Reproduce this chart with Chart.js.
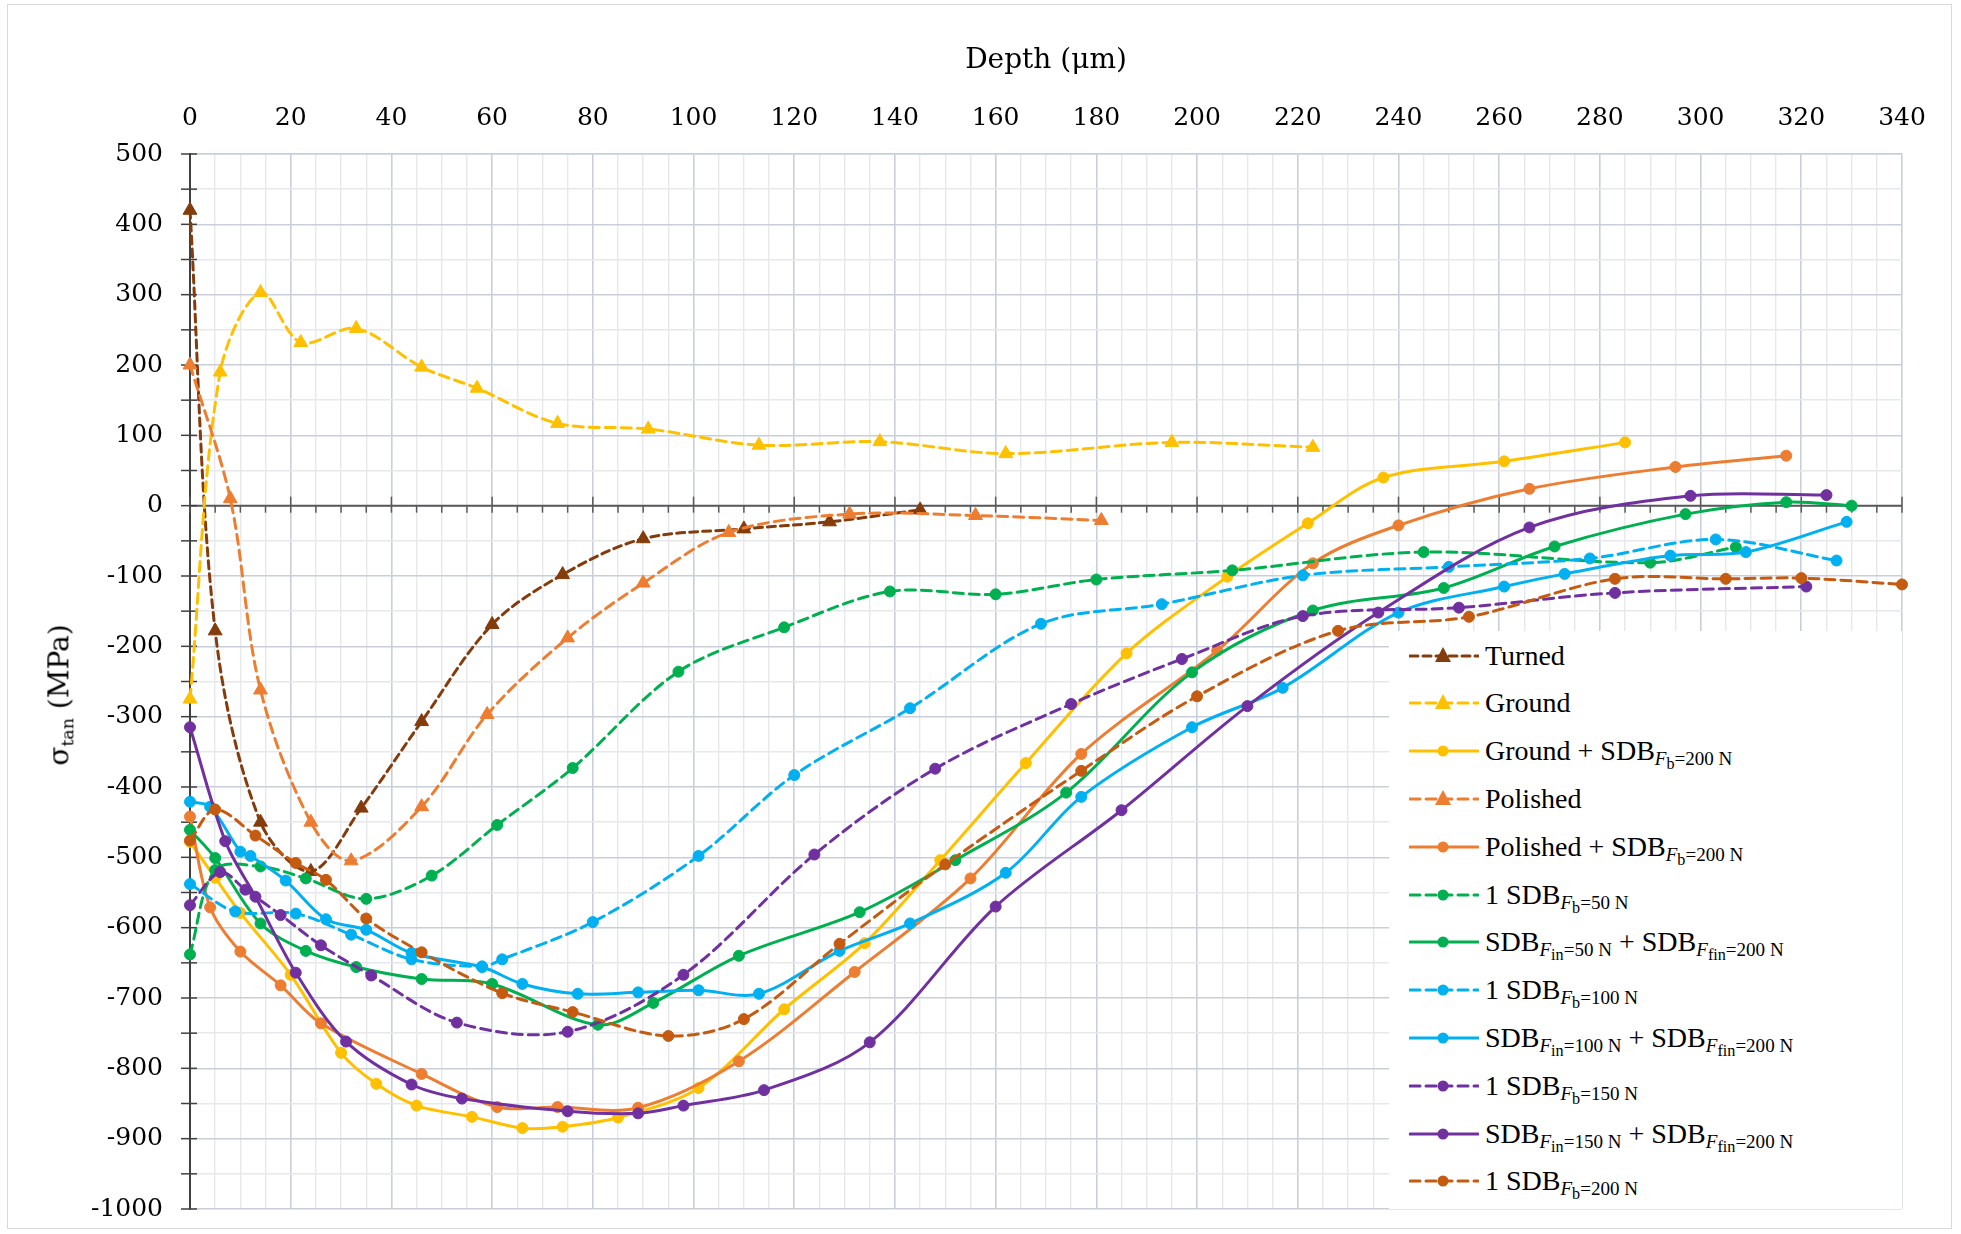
<!DOCTYPE html>
<html><head><meta charset="utf-8">
<script src="https://cdn.jsdelivr.net/npm/chart.js@4.4.1/dist/chart.umd.min.js"></script>
<style>
html,body{margin:0;padding:0;background:#fff;}
#wrap{position:relative;width:1961px;height:1234px;overflow:hidden;background:#fff;}
#frame{position:absolute;left:7px;top:4px;width:1945px;height:1225px;border:1px solid #d9d9d9;box-sizing:border-box;pointer-events:none;}
#c{position:absolute;left:0;top:0;}
#ytitle{position:absolute;left:60px;top:695px;transform:translate(-50%,-50%) rotate(-90deg);font-family:"DejaVu Serif",serif;font-size:28px;color:#000;white-space:nowrap;}
#ytitle sub{font-size:0.62em;vertical-align:-0.3em;}
#legend{position:absolute;left:1389px;top:631px;width:513px;height:578px;background:#fff;font-family:"Liberation Serif",serif;font-size:28px;color:#000;}
.item{position:absolute;left:0;height:40px;display:flex;align-items:center;white-space:nowrap;}
.item svg{margin-left:20px;margin-right:6px;flex:none;}
sub.s1{font-size:0.68em;vertical-align:-0.26em;line-height:0;}
sub.s2{font-size:0.85em;vertical-align:-0.22em;line-height:0;}
</style></head>
<body>
<div id="wrap">
<canvas id="c" width="1961" height="1234"></canvas>
<div id="ytitle">σ<sub>tan</sub> (MPa)</div>
<div id="legend"></div>
<div id="frame"></div>
</div>
<script>
// ---- axis settings ----
const xMin = 0, xMax = 340, xMajorStep = 20, xMinorStep = 5;
const yMin = -1000, yMax = 500, yMajorStep = 100, yMinorStep = 50;

// ---- data (depth in µm, stress in MPa) ----
const turnedDepth  = [0,5,14,24,34,46,60,74,90,110,127,145];
const turnedStress = [420,-178,-450,-520,-430,-307,-169,-98,-47,-33,-23,-6];

const groundDepth  = [0,6,14,22,33,46,57,73,91,113,137,162,195,223];
const groundStress = [-275,190,303,232,252,197,167,117,109,86,91,74,90,83];

const groundSdbDepth  = [0,5,10,20,30,37,45,56,66,74,85,101,118,134,149,166,186,206,222,237,261,285];
const groundSdbStress = [-478,-529,-579,-667,-778,-822,-853,-869,-885,-883,-870,-828,-716,-622,-504,-366,-210,-101,-25,40,63,90];

const polishedDepth  = [0,8,14,24,32,46,59,75,90,107,131,156,181];
const polishedStress = [200,10,-262,-450,-505,-428,-297,-188,-110,-38,-12,-14,-21];

const polishedSdbDepth  = [0,4,10,18,26,46,61,73,89,109,132,155,177,204,223,240,266,295,317];
const polishedSdbStress = [-442,-571,-634,-682,-736,-808,-855,-855,-856,-790,-663,-530,-353,-206,-82,-28,24,55,71];

const sdb50Depth  = [0,5,14,23,35,48,61,76,97,118,139,160,180,207,245,290,307];
const sdb50Stress = [-638,-518,-513,-530,-559,-526,-454,-373,-236,-173,-122,-126,-105,-92,-66,-81,-59];

const sdb50_200Depth  = [0,5,14,23,33,46,60,81,92,109,133,152,174,199,223,249,271,297,317,330];
const sdb50_200Stress = [-461,-501,-594,-633,-656,-673,-680,-738,-707,-640,-578,-504,-408,-237,-149,-117,-58,-12,5,0];

const sdb100Depth  = [0,9,21,32,44,58,62,80,101,120,143,169,193,221,250,278,303,327];
const sdb100Stress = [-538,-577,-580,-610,-645,-655,-645,-592,-498,-383,-288,-168,-140,-99,-87,-75,-48,-78];

const sdb100_200Depth  = [0,4,10,12,19,27,35,44,58,66,77,89,101,113,129,143,162,177,199,217,240,261,273,294,309,329];
const sdb100_200Stress = [-421,-428,-492,-498,-533,-588,-603,-636,-656,-680,-694,-692,-689,-694,-633,-594,-522,-414,-315,-259,-152,-115,-97,-71,-66,-23];

const sdb150Depth  = [0,6,11,18,26,36,53,75,98,124,148,175,197,221,252,283,321];
const sdb150Stress = [-568,-521,-546,-582,-625,-668,-735,-748,-667,-496,-374,-282,-218,-157,-145,-124,-115];

const sdb150_200Depth  = [0,7,13,21,31,44,54,75,89,98,114,135,160,185,210,236,266,298,325];
const sdb150_200Stress = [-315,-477,-556,-664,-762,-823,-843,-861,-864,-853,-831,-763,-570,-433,-285,-152,-31,14,15];

const sdb200Depth  = [0,5,13,21,27,35,46,62,76,95,110,129,150,177,200,228,254,283,305,320,340];
const sdb200Stress = [-476,-432,-469,-508,-532,-587,-635,-693,-720,-754,-730,-623,-510,-377,-271,-178,-158,-104,-104,-103,-112];

// ---- series names (legend text, with subscripts) ----
const sub = (f, s, rest) => `<sub class="s1"><i>${f}</i><sub class="s2">${s}</sub>${rest}</sub>`;
const seriesNames = [
  'Turned',
  'Ground',
  'Ground + SDB' + sub('F','b','=200 N'),
  'Polished',
  'Polished + SDB' + sub('F','b','=200 N'),
  '1 SDB' + sub('F','b','=50 N'),
  'SDB' + sub('F','in','=50 N') + ' + SDB' + sub('F','fin','=200 N'),
  '1 SDB' + sub('F','b','=100 N'),
  'SDB' + sub('F','in','=100 N') + ' + SDB' + sub('F','fin','=200 N'),
  '1 SDB' + sub('F','b','=150 N'),
  'SDB' + sub('F','in','=150 N') + ' + SDB' + sub('F','fin','=200 N'),
  '1 SDB' + sub('F','b','=200 N')
];
const seriesPlain = [
  'Turned','Ground','Ground + SDB Fb=200 N','Polished','Polished + SDB Fb=200 N',
  '1 SDB Fb=50 N','SDB Fin=50 N + SDB Ffin=200 N','1 SDB Fb=100 N','SDB Fin=100 N + SDB Ffin=200 N',
  '1 SDB Fb=150 N','SDB Fin=150 N + SDB Ffin=200 N','1 SDB Fb=200 N'
];
const seriesDepths = [turnedDepth, groundDepth, groundSdbDepth, polishedDepth, polishedSdbDepth,
  sdb50Depth, sdb50_200Depth, sdb100Depth, sdb100_200Depth, sdb150Depth, sdb150_200Depth, sdb200Depth];
const seriesStress = [turnedStress, groundStress, groundSdbStress, polishedStress, polishedSdbStress,
  sdb50Stress, sdb50_200Stress, sdb100Stress, sdb100_200Stress, sdb150Stress, sdb150_200Stress, sdb200Stress];
const seriesColors = ['#843C0C','#FFC000','#FFC000','#ED7D31','#ED7D31','#00B050','#00B050',
  '#00B0F0','#00B0F0','#7030A0','#7030A0','#C55A11'];
const seriesDashed = [true,true,false,true,false,true,false,true,false,true,false,true];
const seriesMarker = ['triangle','triangle','circle','triangle','circle','circle','circle',
  'circle','circle','circle','circle','circle'];

const n = seriesNames.length;
const datasets = seriesNames.map((name, i) => ({
  label: seriesPlain[i],
  data: seriesDepths[i].map((d, k) => ({x: d, y: seriesStress[i][k]})),
  borderColor: seriesColors[i],
  backgroundColor: seriesColors[i],
  borderWidth: 3,
  borderDash: seriesDashed[i] ? (i === 0 ? [8,5] : [10,6]) : [],
  borderCapStyle: 'round',
  pointStyle: seriesMarker[i],
  pointRadius: seriesMarker[i] === 'triangle' ? 8 : 5.5,
  pointBorderWidth: 1,
  pointBorderColor: seriesColors[i],
  pointBackgroundColor: seriesColors[i],
  tension: 0.33,
  fill: false,
  clip: false,
  order: n - i
}));

const majorGrid = '#C8CFDB', minorGrid = '#E6E8EC';

const axisPlugin = {
  id: 'axisLines',
  beforeDatasetsDraw(chart) {
    const {ctx, scales: {x, y}} = chart;
    const y0 = y.getPixelForValue(0);
    const x0 = x.getPixelForValue(0);
    ctx.save();
    ctx.strokeStyle = '#595959';
    ctx.lineWidth = 2;
    ctx.beginPath(); ctx.moveTo(x.left, y0); ctx.lineTo(x.right, y0); ctx.stroke();
    ctx.lineWidth = 1.5;
    for (let v = xMin; v <= xMax; v += xMinorStep) {
      const px = x.getPixelForValue(v);
      ctx.beginPath();
      if (v % xMajorStep === 0) { ctx.moveTo(px, y0 - 9); ctx.lineTo(px, y0 + 7); }
      else { ctx.moveTo(px, y0); ctx.lineTo(px, y0 + 7); }
      ctx.stroke();
    }
    ctx.strokeStyle = '#404040';
    for (let v = yMin; v <= yMax; v += yMinorStep) {
      const py = y.getPixelForValue(v);
      ctx.beginPath(); ctx.moveTo(x0 - 9, py); ctx.lineTo(x0 + 7, py); ctx.stroke();
    }
    ctx.restore();
  }
};

new Chart(document.getElementById('c'), {
  type: 'line',
  data: { datasets },
  options: {
    responsive: false,
    animation: false,
    devicePixelRatio: 1,
    layout: { padding: { left: 0, top: 0, right: 59, bottom: 25 } },
    plugins: { legend: { display: false }, tooltip: { enabled: false } },
    scales: {
      x: {
        type: 'linear', position: 'top', min: xMin, max: xMax,
        afterFit: s => { s.height = 154; s.paddingLeft = 0; s.paddingRight = 0; },
        ticks: {
          stepSize: xMinorStep, autoSkip: false, maxRotation: 0, maxTicksLimit: 200,
          padding: 21, color: '#000',
          font: { family: 'DejaVu Serif', size: 25 },
          callback: v => (v % xMajorStep === 0 ? String(v) : '')
        },
        grid: {
          drawTicks: false,
          color: c => (c.tick && c.tick.value % xMajorStep === 0 ? majorGrid : minorGrid),
          lineWidth: c => (c.tick && c.tick.value % xMajorStep === 0 ? 1.6 : 1.4)
        },
        border: { display: true, color: majorGrid, width: 1.6 },
        title: {
          display: true, text: 'Depth (μm)', color: '#000',
          font: { family: 'DejaVu Serif', size: 28 },
          padding: { top: 44, bottom: 0 }
        }
      },
      y: {
        type: 'linear', position: 'left', min: yMin, max: yMax,
        afterFit: s => { s.width = 190; s.paddingTop = 0; s.paddingBottom = 0; },
        ticks: {
          stepSize: yMinorStep, autoSkip: false, maxTicksLimit: 200,
          padding: 27, color: '#000',
          font: { family: 'DejaVu Serif', size: 25 },
          callback: v => (v % yMajorStep === 0 ? String(v) : '')
        },
        grid: {
          drawTicks: false,
          color: c => (c.tick && c.tick.value % yMajorStep === 0 ? majorGrid : minorGrid),
          lineWidth: c => (c.tick && c.tick.value % yMajorStep === 0 ? 1.6 : 1.4)
        },
        border: { display: true, color: '#404040', width: 2 },
        title: { display: false }
      }
    }
  },
  plugins: [axisPlugin]
});

// ---- HTML legend (allows subscripts) ----
const legend = document.getElementById('legend');
seriesNames.forEach((name, i) => {
  const row = document.createElement('div');
  row.className = 'item';
  row.style.top = (24.6 + i * 47.8 - 20) + 'px';
  const col = seriesColors[i];
  const dash = seriesDashed[i] ? (i === 0 ? 'stroke-dasharray="8 5"' : 'stroke-dasharray="10 6"') : '';
  const marker = seriesMarker[i] === 'triangle'
    ? `<polygon points="34,11 42,26 26,26" fill="${col}"/>`
    : `<circle cx="34" cy="20" r="5.5" fill="${col}"/>`;
  row.innerHTML = `<svg width="70" height="40" viewBox="0 0 70 40"><line x1="1" y1="20" x2="69" y2="20" stroke="${col}" stroke-width="3" stroke-linecap="round" ${dash}/>${marker}</svg><span>${name}</span>`;
  legend.appendChild(row);
});
</script>
</body></html>
